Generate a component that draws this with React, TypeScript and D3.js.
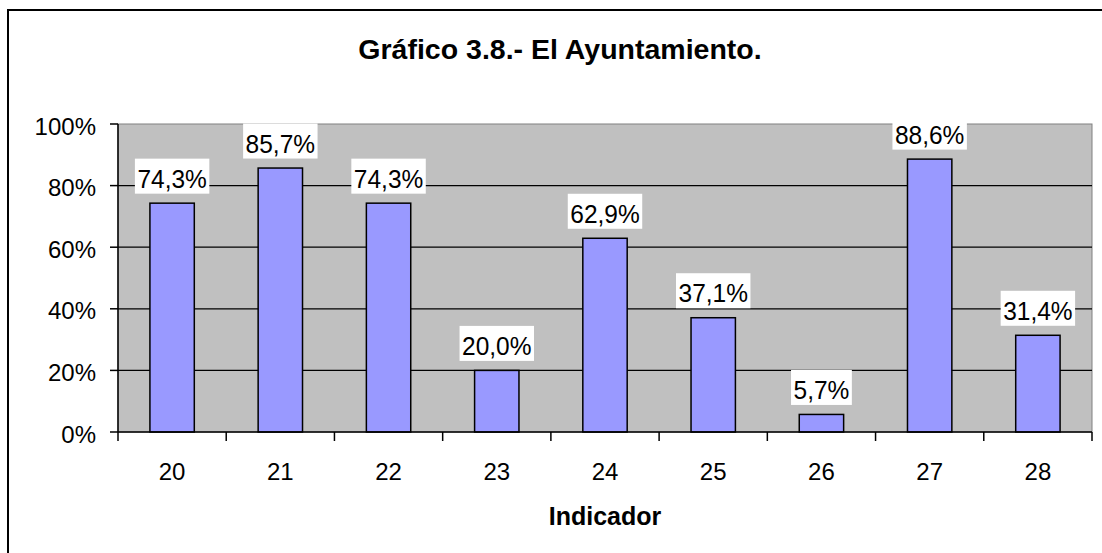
import * as d3 from "d3";
import { useEffect, useRef } from "react";

// data
const indicadores = ["20", "21", "22", "23", "24", "25", "26", "27", "28"];
const porcentajes = [74.3, 85.7, 74.3, 20.0, 62.9, 37.1, 5.7, 88.6, 31.4];
const yTicks = [0, 20, 40, 60, 80, 100];
const titulo = "Gráfico 3.8.- El Ayuntamiento.";
const ejeX = "Indicador";

const App = () => {
  const ref = useRef<SVGSVGElement>(null);

  useEffect(() => {
    const svg = d3.select(ref.current);
    svg.selectAll("*").remove();
    const font = "Arial, 'Liberation Sans', sans-serif";

    const left = 118,
      right = 1092,
      top = 124,
      bottom = 432;

    // outer frame (runs off the right and bottom edge)
    svg
      .append("rect")
      .attr("x", 8)
      .attr("y", 10)
      .attr("width", 1110)
      .attr("height", 560)
      .attr("fill", "#fff")
      .attr("stroke", "#000")
      .attr("stroke-width", 2);

    const x = d3
      .scaleBand()
      .domain(indicadores)
      .range([left, right])
      .paddingInner(0.59)
      .paddingOuter(0.295);
    const step = x.step();
    const y = d3.scaleLinear().domain([0, 100]).range([bottom, top]);

    // plot area
    svg
      .append("rect")
      .attr("x", left)
      .attr("y", top)
      .attr("width", right - left)
      .attr("height", bottom - top)
      .attr("fill", "#c0c0c0")
      .attr("stroke", "#808080")
      .attr("stroke-width", 1);

    // gridlines
    svg
      .append("g")
      .selectAll("line")
      .data(yTicks.filter((t) => t > 0 && t < 100))
      .join("line")
      .attr("x1", left)
      .attr("x2", right)
      .attr("y1", (d) => y(d))
      .attr("y2", (d) => y(d))
      .attr("stroke", "#000")
      .attr("stroke-width", 1.2);

    // bars
    svg
      .append("g")
      .selectAll("rect")
      .data(porcentajes)
      .join("rect")
      .attr("x", (d, i) => x(indicadores[i])!)
      .attr("y", (d) => y(d))
      .attr("width", x.bandwidth())
      .attr("height", (d) => bottom - y(d))
      .attr("fill", "#9999ff")
      .attr("stroke", "#000")
      .attr("stroke-width", 1.5);

    // y axis
    const gy = svg.append("g");
    gy.append("line")
      .attr("x1", left)
      .attr("x2", left)
      .attr("y1", top)
      .attr("y2", bottom)
      .attr("stroke", "#000")
      .attr("stroke-width", 1.5);
    gy.selectAll("line.tick")
      .data(yTicks)
      .join("line")
      .attr("class", "tick")
      .attr("x1", 110)
      .attr("x2", left)
      .attr("y1", (d) => y(d))
      .attr("y2", (d) => y(d))
      .attr("stroke", "#000")
      .attr("stroke-width", 1.5);
    gy.selectAll("text")
      .data(yTicks)
      .join("text")
      .attr("x", 96)
      .attr("y", (d) => y(d) + 10.5)
      .attr("text-anchor", "end")
      .attr("font-family", font)
      .attr("font-size", 24)
      .text((d) => d + "%");

    // x axis
    const gx = svg.append("g");
    gx.append("line")
      .attr("x1", left)
      .attr("x2", right)
      .attr("y1", bottom)
      .attr("y2", bottom)
      .attr("stroke", "#000")
      .attr("stroke-width", 1.5);
    gx.selectAll("line.tick")
      .data(d3.range(indicadores.length + 1))
      .join("line")
      .attr("class", "tick")
      .attr("x1", (i) => left + i * step)
      .attr("x2", (i) => left + i * step)
      .attr("y1", bottom)
      .attr("y2", 441)
      .attr("stroke", "#000")
      .attr("stroke-width", 1.5);
    gx.selectAll("text")
      .data(indicadores)
      .join("text")
      .attr("x", (d) => x(d)! + x.bandwidth() / 2)
      .attr("y", 480)
      .attr("text-anchor", "middle")
      .attr("font-family", font)
      .attr("font-size", 24)
      .text((d) => d);

    // data labels with white boxes
    const labels = svg
      .append("g")
      .selectAll("g")
      .data(porcentajes)
      .join("g");
    labels.each(function (d, i) {
      const g = d3.select(this);
      const cx = x(indicadores[i])! + x.bandwidth() / 2;
      const base = y(d) - 15.5;
      const box = g.append("rect").attr("fill", "#fff");
      const t = g
        .append("text")
        .attr("transform", `translate(${cx},${base}) scale(1,1.08)`)
        .attr("text-anchor", "middle")
        .attr("font-family", font)
        .attr("font-size", 24.5)
        .text(d.toFixed(1).replace(".", ",") + "%");
      const w = (t.node() as SVGTextElement).getComputedTextLength();
      box
        .attr("x", cx - w / 2 - 2.5)
        .attr("y", base - 29)
        .attr("width", w + 5)
        .attr("height", 35);
    });

    // titles
    svg
      .append("text")
      .attr("x", 560)
      .attr("y", 59)
      .attr("text-anchor", "middle")
      .attr("font-family", font)
      .attr("font-weight", "bold")
      .attr("font-size", 28.5)
      .text(titulo);
    svg
      .append("text")
      .attr("x", (left + right) / 2)
      .attr("y", 525)
      .attr("text-anchor", "middle")
      .attr("font-family", font)
      .attr("font-weight", "bold")
      .attr("font-size", 25)
      .text(ejeX);
  }, []);

  return (
    <svg
      ref={ref}
      width={1102}
      height={553}
      style={{ position: "absolute", left: 0, top: 0, background: "#fff" }}
    />
  );
};

export default App;
